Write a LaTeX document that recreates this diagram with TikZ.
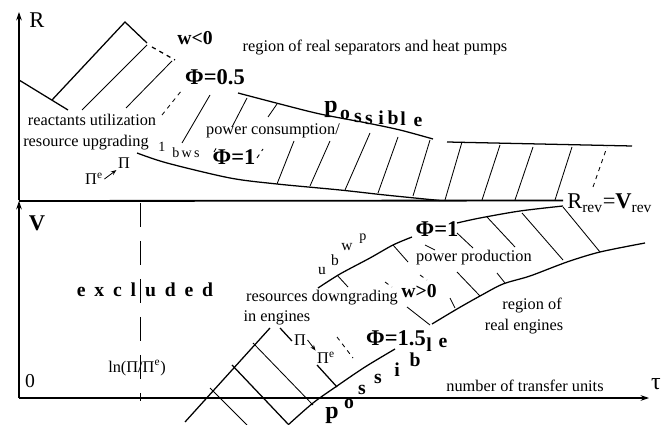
\documentclass[tikz,border=0pt]{standalone}
\usepackage{fontspec}
\setmainfont{Liberation Serif}
\usetikzlibrary{arrows.meta}

\begin{document}
\begin{tikzpicture}[x=0.025cm,y=-0.025cm,
  txt/.style={font=\fontsize{11.6}{13}\selectfont, inner sep=0pt},
  sml/.style={font=\fontsize{10}{11}\selectfont, inner sep=0pt},
  phi/.style={font=\fontsize{16}{18}\selectfont\bfseries, inner sep=0pt},
  ltr/.style={font=\fontsize{14}{16}\selectfont\bfseries, inner sep=0pt},
  axis/.style={line width=0.8pt, -{Stealth[length=6pt,width=4pt]}},
  bound/.style={line width=0.9pt},
  hatch/.style={line width=0.6pt},
  ptr/.style={line width=0.6pt, -{Stealth[length=4pt,width=3pt]}}
]
\useasboundingbox (0,0) rectangle (670,425);

\coordinate (O) at (19,398);
\coordinate (Rtop) at (19,12);
\coordinate (Rbot) at (19,200);
\coordinate (Vtop) at (19,201);
\coordinate (Tend) at (649,398);
\coordinate (Rrev) at (563,200.5);
\coordinate (Htop) at (140,203);
\coordinate (Hbot) at (140,401);

\draw[axis] (Rbot) -- (Rtop);
\draw[axis] (O) -- (Vtop);
\draw[axis] (O) -- (Tend);
\draw[line width=1.3pt] (Vtop) -- (Rrev);
\draw[line width=0.7pt, dash pattern=on 17pt off 10pt] (Htop) -- (Hbot);

\node[font=\fontsize{16}{18}\selectfont, inner sep=0pt] (Rlbl) at (37,20) {R};
\node[phi] (Vlbl) at (37,223) {V};
\node[font=\fontsize{14}{16}\selectfont, inner sep=0pt] (zero) at (30,381) {0};
\node[font=\fontsize{17}{18}\selectfont, inner sep=0pt] (tau) at (656,384) {τ};

% separators and heat pumps
\draw[bound] (19,80) -- (68,110);
\draw[bound] (52,100) -- (125,22) -- (147,43);
\draw[bound, dashed] (152,47) -- (175,60);
\draw[bound] plot[smooth] coordinates {(137,153) (167,163) (230,178) (277,184) (340,190) (385,195) (440,200.5)};
\draw[bound] plot[smooth] coordinates {(238,93) (280,104) (320,114) (367,123) (400,130) (433,139)};
\draw[bound] (447,142) -- (632,146);
\foreach \xa/\ya/\xb/\yb in {82/110/147/45, 126/108/172/61, 182/143/210/95,
  232/127/247/98, 268/117/277/104, 277/184/294/141, 310/186/330/141,
  345/190/370/133, 378/193/398/137, 413/196/430/140, 445/200/462/142,
  482/200/500/145, 515/200/533/147, 555/200/572/147}
  \draw[hatch] (\xa,\ya) -- (\xb,\yb);
\foreach \xa/\ya/\xb/\yb in {162/115/182/90, 214/152/218/145, 257/158/263/149,
  593/187/607/147}
  \draw[hatch, dashed] (\xa,\ya) -- (\xb,\yb);

\node[ltr] (wneg) at (195,38) {w<0};
\node[txt] (sepreg) at (375,48) {region of real separators and heat pumps};
\node[phi] (phihalf) at (215,77) {Φ=0.5};
\node[txt] (react) at (92,120) {reactants utilization};
\node[txt] (upgr) at (86,143) {resource upgrading};
\node[sml] (one) at (162,147) {1};
\node[sml] (bws) at (186,153) {b\,w\,s};
\node[txt, inner sep=1pt] (PIe1) at (94,179) {Π\textsuperscript{e}};
\node[txt, inner sep=1pt] (PI1) at (124,163) {Π};
\draw[ptr] (PIe1.east) -- (PI1.south west);
\node[phi] (phione) at (234,157) {Φ=1};
\node[txt] (cons) at (273,131) {power consumption/};
\node[font=\fontsize{17}{18}\selectfont\bfseries, inner sep=0pt] (pu) at (331,109) {p};
\foreach \c/\x/\y [count=\i] in {o/345/115, s/358/118, s/369/120, i/381/118,
  b/393/118, l/403/119, e/418/122}
  \node[ltr] (pu\i) at (\x,\y) {\c};

% engines
\draw[bound] plot[smooth] coordinates {(318,288) (340,274) (370,258) (393,245) (412,237)};
\draw[bound] plot[smooth] coordinates {(457,223) (480,218) (520,211) (563,206)};
\draw[bound] plot[smooth] coordinates {(645,243) (600,252) (567,262) (530,276) (503,284) (480,296) (457,309) (432,324)};
\draw[bound] plot[smooth] coordinates {(395,349) (365,367) (337,386) (313,403) (288,425)};
\draw[bound] (185,422) -- (270,328);
\draw[bound] (280,328) -- (292,341);
\foreach \xa/\ya/\xb/\yb in {337/275/348/287, 393/245/408/262, 425/245/435/250,
  457/233/473/248, 487/217/515/247, 522/213/563/260, 563/207/600/252,
  407/307/430/325, 457/272/480/296, 450/298/455/308, 497/273/505/283,
  253/343/313/405, 210/388/247/425}
  \draw[hatch] (\xa,\ya) -- (\xb,\yb);
\foreach \xa/\ya/\xb/\yb in {232/365/288/424, 317/365/337/387}
  \draw[bound] (\xa,\ya) -- (\xb,\yb);
\foreach \xa/\ya/\xb/\yb in {385/282/392/287, 420/275/427/280, 337/337/353/358}
  \draw[hatch, dashed] (\xa,\ya) -- (\xb,\yb);

\foreach \c/\x/\y/\s [count=\i] in {u/322/271/11, b/335/260/11, w/347/247/11, p/363/239/10}
  \node[font=\fontsize{\s}{12}\selectfont, inner sep=0pt] (ubw\i) at (\x,\y) {\c};
\node[phi] (phitwo) at (437,229) {Φ=1};
\node[txt] (prod) at (474,258) {power production};
\node[ltr] (wpos) at (419,291) {w>0};
\node[txt] (downg) at (322,298) {resources downgrading};
\node[txt] (ineng) at (277,318) {in engines};
\node[txt, inner sep=1pt] (PI2) at (300,340) {Π};
\node[txt, inner sep=1pt] (PIe2) at (326,358) {Π\textsuperscript{e}};
\draw[ptr] (PI2.east) -- (PIe2.north west);
\node[phi] (phithree) at (396,338) {Φ=1.5};
\node[font=\fontsize{17}{18}\selectfont\bfseries, inner sep=0pt] (pl) at (332,415) {p};
\foreach \c/\x/\y [count=\i] in {o/349/404, s/362/390, s/378/379, i/397/370,
  b/415/360, l/429/345, e/443/343}
  \node[ltr] (pl\i) at (\x,\y) {\c};
\node[txt] (regeng) at (532,306) {region of};
\node[txt] (realeng) at (524,327) {real engines};
\node[txt] (ntu) at (525,386) {number of transfer units};
\node[font=\fontsize{14}{16}\selectfont\bfseries, inner sep=0pt] (excl) at (145,290)
  {e\hspace{0.45em}x\hspace{0.45em}c\hspace{0.45em}l\hspace{0.45em}u\hspace{0.45em}d\hspace{0.45em}e\hspace{0.45em}d};
\node[txt] (lnpi) at (137,368) {ln(Π/Π\textsuperscript{e})};
\node[font=\fontsize{16}{18}\selectfont, inner sep=0pt, anchor=west] (rrev) at (567,203)
  {R\textsubscript{\fontsize{11}{12}\selectfont rev}=\textbf{V}\textsubscript{\fontsize{11}{12}\selectfont rev}};
\end{tikzpicture}
\end{document}
